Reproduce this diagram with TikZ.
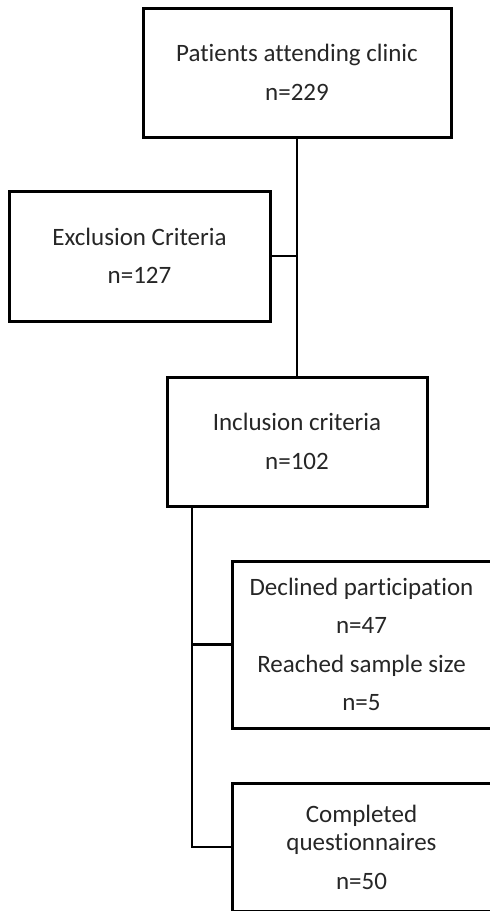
\documentclass[tikz,border=0pt]{standalone}
\usepackage{fontspec}
\setmainfont{Carlito}[Ligatures={NoCommon}]
\begin{document}
\begin{tikzpicture}[x=1pt,y=-1pt,
  box/.style={draw=black,line width=3pt,inner sep=0pt,align=center,
    text=black!85,font=\fontsize{25}{38.5}\selectfont},
  conn/.style={draw=black,line width=2.6pt}]
\useasboundingbox (0,0) rectangle (490,911);
\clip (0,0) rectangle (490,911);
\node[box,minimum width=308pt,minimum height=129pt] (b1) at (297,72.5) {Patients attending clinic\\n=229};
\node[box,minimum width=261pt,minimum height=130pt] (b2) at (139.5,256) {Exclusion Criteria\\n=127};
\node[box,minimum width=260pt,minimum height=129pt] (b3) at (297,441.5) {Inclusion criteria\\n=102};
\node[box,minimum width=259pt,minimum height=167pt] (b4) at (361.5,644.5) {Declined participation\\n=47\\Reached sample size\\n=5};
\node[box,minimum width=259pt,minimum height=128pt] (b5) at (361.5,847) {Completed\\[-10pt]questionnaires\\n=50};
\coordinate (s3) at ([xshift=-105pt]b3.south);
\draw[conn] (b1.south) -- (b3.north);
\draw[conn] (b2.east) -- (b2.east -| b1.south);
\draw[conn] (s3) |- (b5.west);
\draw[conn] (b4.west) -- (b4.west -| s3);
\end{tikzpicture}
\end{document}
